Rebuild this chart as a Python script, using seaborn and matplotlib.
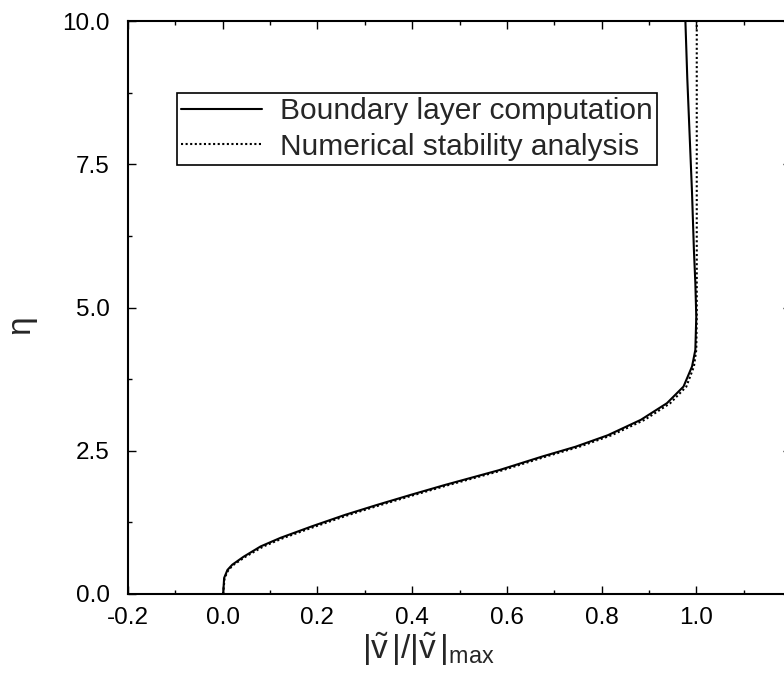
import numpy as np
import pandas as pd
import matplotlib
matplotlib.use("Agg")
import matplotlib.pyplot as plt
import seaborn as sns
from matplotlib.ticker import MultipleLocator

# --- data ---
eta = [0.0, 0.01, 0.28, 0.42, 0.51, 0.65, 0.83, 0.98, 1.18, 1.38, 1.55, 1.73, 1.90,
       2.02, 2.16, 2.40, 2.57, 2.77, 3.04, 3.33, 3.62, 3.97, 4.26, 4.84, 5.43, 6.0,
       7.0, 8.0, 9.0, 10.0]
v_bl = [0.0, 0.001, 0.003, 0.010, 0.020, 0.044, 0.080, 0.122, 0.188, 0.258, 0.324,
        0.397, 0.468, 0.521, 0.583, 0.675, 0.745, 0.813, 0.883, 0.938, 0.973, 0.991,
        0.998, 1.000, 0.998, 0.995, 0.991, 0.986, 0.981, 0.977]
v_ns = [0.0, 0.001, 0.004, 0.012, 0.023, 0.048, 0.086, 0.129, 0.196, 0.266, 0.332,
        0.405, 0.476, 0.529, 0.591, 0.683, 0.753, 0.821, 0.891, 0.945, 0.979, 0.995,
        1.000, 1.001, 1.001, 1.001, 1.001, 1.001, 1.001, 1.001]
labels = ["Boundary layer computation", "Numerical stability analysis"]
xticks = [-0.2, 0.0, 0.2, 0.4, 0.6, 0.8, 1.0, 1.2]
xticklabels = ["-0.2", "0.0", "0.2", "0.4", "0.6", "0.8", "1.0", ""]
yticks = [0.0, 2.5, 5.0, 7.5, 10.0]
yticklabels = ["0.0", "2.5", "5.0", "7.5", "10.0"]

df_bl = pd.DataFrame({"v": v_bl, "eta": eta})
df_ns = pd.DataFrame({"v": v_ns, "eta": eta})

sns.set_style("ticks")
plt.rcParams["font.family"] = ["Liberation Sans", "DejaVu Sans"]
plt.rcParams["mathtext.fontset"] = "custom"
plt.rcParams["mathtext.rm"] = "Liberation Sans"
plt.rcParams["mathtext.it"] = "Liberation Sans:italic"
plt.rcParams["mathtext.bf"] = "Liberation Sans:bold"

fig = plt.figure(figsize=(7.84, 6.74), dpi=100)
ax = fig.add_axes([128/784, 80/674, 663/784, 573/674])

sns.lineplot(data=df_bl, x="v", y="eta", sort=False, estimator=None, ax=ax,
             color="black", lw=1.5, linestyle="-", label=labels[0])
sns.lineplot(data=df_ns, x="v", y="eta", sort=False, estimator=None, ax=ax,
             color="black", lw=1.5, linestyle=(0, (1, 1.2)), label=labels[1])

ax.set_xlim(-0.2, 1.2)
ax.set_ylim(0, 10)
ax.set_xticks(xticks)
ax.set_xticklabels(xticklabels)
ax.set_yticks(yticks)
ax.set_yticklabels(yticklabels)
ax.xaxis.set_minor_locator(MultipleLocator(0.1))
ax.yaxis.set_minor_locator(MultipleLocator(1.25))
ax.tick_params(which="both", direction="in", top=True, right=True, colors="black")
ax.tick_params(which="major", length=6, width=1.0, labelsize=17.5)
ax.tick_params(axis="x", which="major", pad=9)
ax.tick_params(axis="y", which="major", pad=13)
ax.tick_params(which="minor", length=3, width=1.0)
for s in ax.spines.values():
    s.set_linewidth(1.5)
    s.set_color("black")

ax.set_xlabel(r"$|\tilde{\mathrm{v}}\,|/|\tilde{\mathrm{v}}\,|_{\mathrm{max}}$", fontsize=24)
ax.xaxis.set_label_coords((428-128)/663, (594-631)/573)
ax.set_ylabel("η", fontsize=24)
ax.yaxis.set_label_coords((36-128)/663, (594-325)/573)

leg = ax.legend(loc="upper left", bbox_to_anchor=((177-128)/663, (594-93)/573),
                fontsize=21.5, frameon=True, fancybox=False, handlelength=2.7,
                borderpad=0.15, labelspacing=0.25, handletextpad=0.6, borderaxespad=0)
leg.get_frame().set_edgecolor("black")
leg.get_frame().set_linewidth(1.2)
leg.get_frame().set_alpha(1)

fig.savefig("out.png", dpi=100)
